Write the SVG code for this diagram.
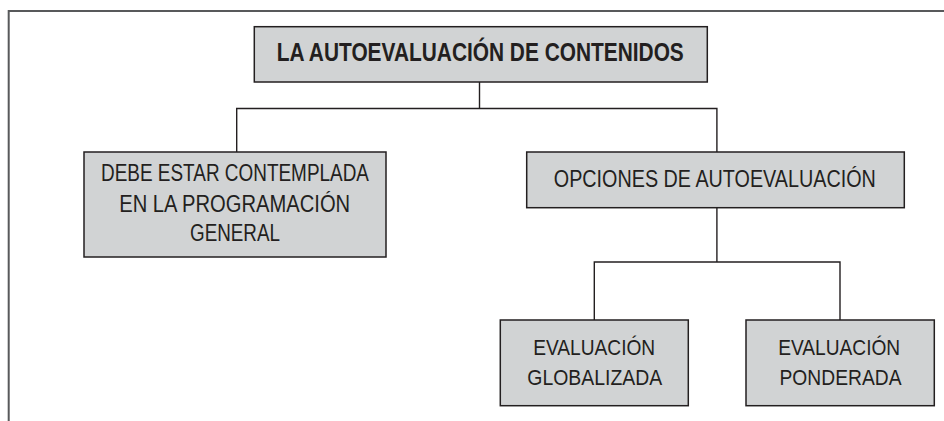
<svg xmlns="http://www.w3.org/2000/svg" width="944" height="421" viewBox="0 0 944 421">
<style>
.box{fill:#d1d3d4;stroke:#231f20;stroke-width:1.5}
.t{font-family:"Liberation Sans",Arial,sans-serif;fill:#231f20;text-anchor:middle}
.n{font-size:23.5px}
.s{font-size:22px}
.b{font-size:25px;font-weight:bold}
.c{fill:none;stroke:#231f20;stroke-width:1.4}
.frame{fill:none;stroke:#58595b;stroke-width:2}
</style>
<rect width="944" height="421" fill="#ffffff"/>
<path class="frame" d="M8.7 421 V11 H944"/>
<g id="connectors">
<path class="c" d="M479.5 82 V108.5"/>
<path class="c" d="M236.7 152 V108.5 H716.9 V152"/>
<path class="c" d="M716.9 207.7 V262"/>
<path class="c" d="M594.3 320 V262 H840 V320"/>
</g>
<g id="root">
<rect class="box" x="254.3" y="26.7" width="453" height="55.3"/>
<text class="t b" x="480.3" y="61" textLength="407" lengthAdjust="spacingAndGlyphs">LA AUTOEVALUACIÓN DE CONTENIDOS</text>
</g>
<g id="debe">
<rect class="box" x="84" y="152" width="302" height="105"/>
<text class="t n" x="235" y="181.3" textLength="268" lengthAdjust="spacingAndGlyphs">DEBE ESTAR CONTEMPLADA</text>
<text class="t n" x="234.7" y="211.5" textLength="231" lengthAdjust="spacingAndGlyphs">EN LA PROGRAMACIÓN</text>
<text class="t n" x="235" y="240.5" textLength="90" lengthAdjust="spacingAndGlyphs">GENERAL</text>
</g>
<g id="opciones">
<rect class="box" x="526.7" y="152" width="377.6" height="55.7"/>
<text class="t n" x="714.8" y="186.5" textLength="322" lengthAdjust="spacingAndGlyphs">OPCIONES DE AUTOEVALUACIÓN</text>
</g>
<g id="globalizada">
<rect class="box" x="500.3" y="320" width="188" height="85.7"/>
<text class="t s" x="594.2" y="355" textLength="122" lengthAdjust="spacingAndGlyphs">EVALUACIÓN</text>
<text class="t s" x="594.8" y="385" textLength="135" lengthAdjust="spacingAndGlyphs">GLOBALIZADA</text>
</g>
<g id="ponderada">
<rect class="box" x="746" y="320" width="188.3" height="85.7"/>
<text class="t s" x="839.2" y="355" textLength="122" lengthAdjust="spacingAndGlyphs">EVALUACIÓN</text>
<text class="t s" x="840.5" y="385" textLength="122" lengthAdjust="spacingAndGlyphs">PONDERADA</text>
</g>
</svg>
